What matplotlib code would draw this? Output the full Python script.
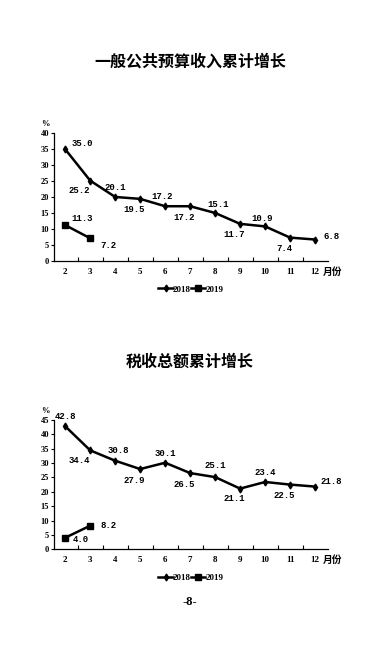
import matplotlib.pyplot as plt

plt.rcParams['font.family'] = ['Noto Sans CJK SC', 'DejaVu Sans']

# Data
months = ['2', '3', '4', '5', '6', '7', '8', '9', '10', '11', '12']
budget_2018 = [35.0, 25.2, 20.1, 19.5, 17.2, 17.2, 15.1, 11.7, 10.9, 7.4, 6.8]
budget_2019 = [11.3, 7.2]
tax_2018 = [42.8, 34.4, 30.8, 27.9, 30.1, 26.5, 25.1, 21.1, 23.4, 22.5, 21.8]
tax_2019 = [4.0, 8.2]

# label offsets (points) for each value
off_b18 = [(12, 4), (-8, -7), (0, 7), (-4, -8), (-2, 7), (-4, -8), (2, 6), (-4, -8), (-2, 6), (-4, -8), (12, 2)]
off_b19 = [(12, 5), (13, -5)]
off_t18 = [(0, 7), (-8, -7), (2, 7), (-4, -8), (0, 7), (-4, -8), (0, 8), (-4, -7), (0, 7), (-4, -8), (12, 4)]
off_t19 = [(11, -1), (13, 0)]

num_font = dict(family='Liberation Mono', fontweight='bold', fontsize=6.5)
tick_font = dict(family='Liberation Serif', fontweight='bold', fontsize=6.5)

fig = plt.figure(figsize=(3.8, 6.5), dpi=100)


def draw(rect, title, title_y, s18, s19, o18, o19, ymax, legend_y):
    ax = fig.add_axes(rect)
    x = list(range(len(months)))
    ax.plot(x, s18, color='black', lw=1.8, marker='d', ms=3.5, label='2018')
    ax.plot(x[:len(s19)], s19, color='black', lw=1.8, marker='s', ms=4, label='2019')
    for xi, v, (dx, dy) in zip(x, s18, o18):
        ax.annotate(f'{v:.1f}', (xi, v), xytext=(dx, dy), textcoords='offset points',
                    ha='center', va='center', **num_font)
    for xi, v, (dx, dy) in zip(x, s19, o19):
        ax.annotate(f'{v:.1f}', (xi, v), xytext=(dx, dy), textcoords='offset points',
                    ha='center', va='center', **num_font)
    ax.set_xlim(-0.45, 10.5)
    ax.set_ylim(0, ymax)
    ax.set_yticks(range(0, ymax + 1, 5))
    ax.set_xticks([i + 0.5 for i in range(10)])
    ax.set_xticklabels([])
    ax.tick_params(axis='x', direction='in', length=3, width=0.8)
    ax.tick_params(axis='y', direction='out', length=2.5, width=0.8, pad=1)
    for lbl in ax.get_yticklabels():
        lbl.set_fontfamily('Liberation Serif')
        lbl.set_fontweight('bold')
        lbl.set_fontsize(6)
    for xi, m in enumerate(months):
        ax.text(xi, -0.085 * ymax, m, ha='center', va='center', **tick_font)
    ax.text(10.32, -0.085 * ymax, '月份', ha='left', va='center', fontsize=7, fontweight='bold')
    ax.text(-0.03, 1.04, '%', transform=ax.transAxes, ha='center', va='bottom',
            fontsize=6, fontweight='bold', family='Liberation Serif')
    for sp in ['top', 'right']:
        ax.spines[sp].set_visible(False)
    ax.spines['left'].set_linewidth(0.9)
    ax.spines['bottom'].set_linewidth(0.9)
    ax.legend(loc='center', bbox_to_anchor=(0.5, legend_y), ncol=2, frameon=False,
              handlelength=1.6, columnspacing=0.0, handletextpad=0.0,
              prop={'family': 'Liberation Serif', 'weight': 'bold', 'size': 6.5})
    fig.text(0.5, title_y, title, ha='center', va='center', fontsize=11.5, fontweight='bold')
    return ax


draw([0.142, 0.598, 0.72, 0.197], '一般公共预算收入累计增长', 0.905,
     budget_2018, budget_2019, off_b18, off_b19, 40, -0.22)
draw([0.142, 0.155, 0.72, 0.199], '税收总额累计增长', 0.443,
     tax_2018, tax_2019, off_t18, off_t19, 45, -0.22)

fig.text(0.5, 0.074, '-8-', ha='center', va='center', fontsize=9, fontweight='bold',
         family='Liberation Serif')

fig.savefig('out.png', dpi=100)
